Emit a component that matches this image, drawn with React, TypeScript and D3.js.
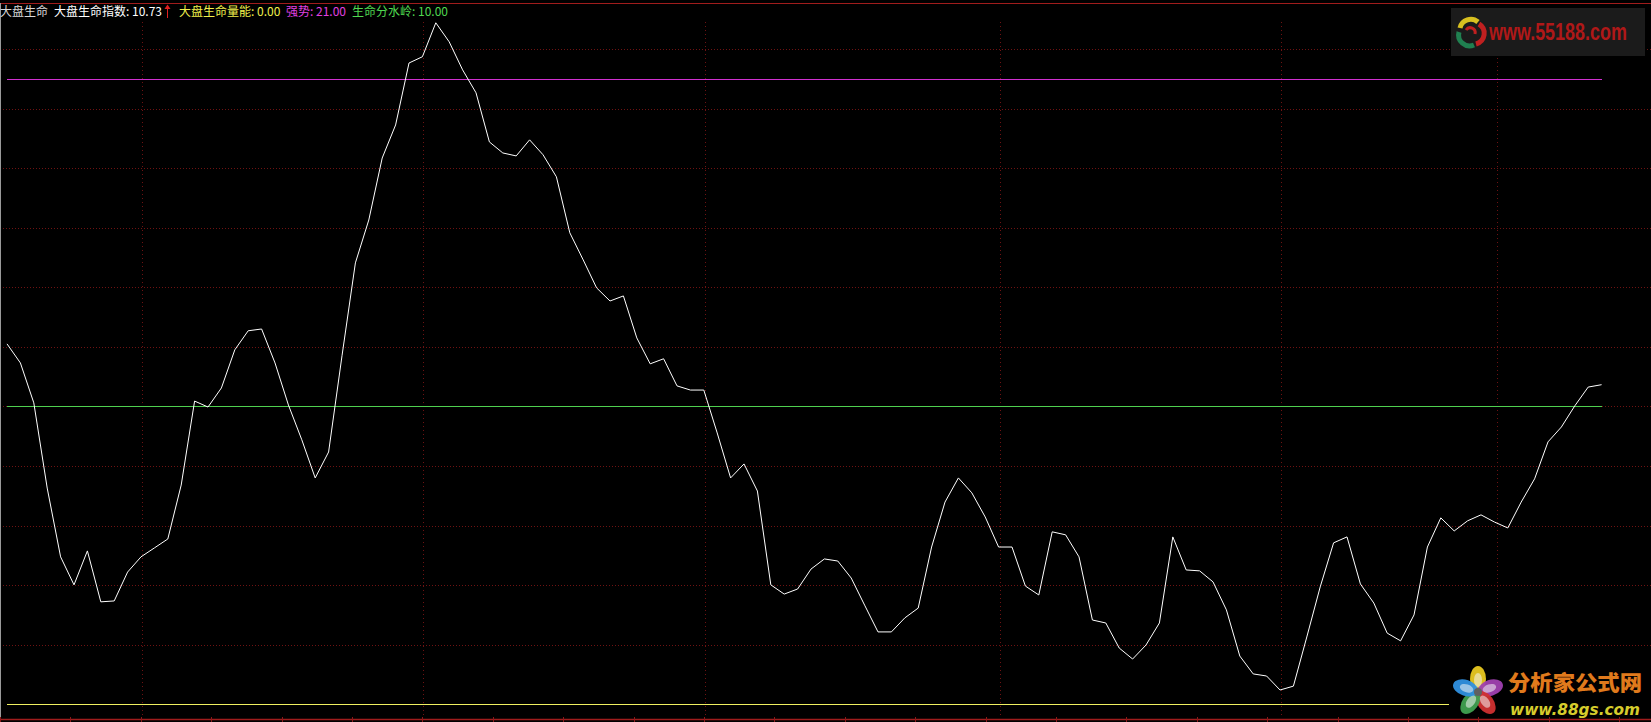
import React from "react";
import * as d3 from "d3";

// ---- data ----
const lifeIndex: number[] = [
  12.10, 11.46, 10.12, 7.26, 4.95, 4.01, 5.15, 3.44, 3.47, 4.44,
  4.95, 5.25, 5.55, 7.36, 10.18, 9.98, 10.62, 11.90, 12.54, 12.60,
  11.46, 10.05, 8.88, 7.60, 8.47, 11.70, 14.82, 16.26, 18.34, 19.45,
  21.53, 21.74, 22.88, 22.24, 21.30, 20.53, 18.88, 18.51, 18.41, 18.95,
  18.45, 17.71, 15.83, 14.92, 13.98, 13.54, 13.71, 12.30, 11.43, 11.60,
  10.69, 10.55, 10.55, 9.11, 7.60, 8.07, 7.16, 4.01, 3.70, 3.87,
  4.54, 4.88, 4.81, 4.24, 3.33, 2.43, 2.43, 2.90, 3.23, 5.28,
  6.79, 7.60, 7.10, 6.29, 5.28, 5.28, 3.97, 3.67, 5.79, 5.69,
  4.95, 2.83, 2.73, 1.89, 1.52, 1.99, 2.73, 5.62, 4.51, 4.48,
  4.11, 3.17, 1.62, 1.02, 0.95, 0.48, 0.61, 2.26, 3.94, 5.42,
  5.62, 4.04, 3.40, 2.39, 2.13, 3.00, 5.28, 6.26, 5.82, 6.16,
  6.36, 6.12, 5.92, 6.79, 7.57, 8.81, 9.31, 10.02, 10.65, 10.73,
];
const energyLevel = 0.0; // 大盘生命量能
const strongLevel = 21.0; // 强势
const watershedLevel = 10.0; // 生命分水岭
const gridValues: number[] = [2, 4, 6, 8, 10, 12, 14, 16, 18, 20, 22];
const periodStarts: number[] = [10, 31, 52, 74, 95, 111.1];

const legendLabels = ["大盘生命", "大盘生命指数", "大盘生命量能", "强势", "生命分水岭"];

const W = 1651;
const H = 722;

export default function App() {
  const n = lifeIndex.length;
  const x = d3.scaleLinear().domain([0, n - 1]).range([7, 1601.6]);
  const y = d3.scaleLinear().domain([0, 22]).range([704.3, 49]);
  const line = d3
    .line<number>()
    .x((_, i) => x(i))
    .y((d) => y(d));

  const gridColor = "#6e1212";
  const bottomTicks = d3.range(0, W, 70.4);
  const last = lifeIndex[n - 1];
  const font = "'Noto Sans CJK SC', 'Noto Sans', sans-serif";

  return (
    <div style={{ width: W, height: H, background: "#000" }}>
      <style>{`html,body{margin:0;padding:0;background:#000;}`}</style>
      <svg width={W} height={H} style={{ display: "block", position: "absolute", left: 0, top: 0 }}>
        <rect x={0} y={0} width={W} height={H} fill="#000" />
        {/* horizontal grid */}
        {gridValues.map((v) => (
          <line
            key={"h" + v}
            x1={0}
            x2={W}
            y1={Math.round(y(v)) + 0.5}
            y2={Math.round(y(v)) + 0.5}
            stroke={gridColor}
            strokeWidth={1}
            strokeDasharray="1,2"
          />
        ))}
        {/* vertical grid */}
        {periodStarts.map((p) => (
          <line
            key={"v" + p}
            x1={Math.round(x(p)) + 1.5}
            x2={Math.round(x(p)) + 1.5}
            y1={22}
            y2={718}
            stroke={gridColor}
            strokeWidth={1}
            strokeDasharray="1,3"
          />
        ))}
        {/* borders */}
        <line x1={0} x2={W} y1={3.5} y2={3.5} stroke="#a01c1c" strokeWidth={1} />
        <line x1={0} x2={W} y1={719.5} y2={719.5} stroke="#a01c1c" strokeWidth={1.5} />
        <line x1={0.5} x2={0.5} y1={3} y2={720} stroke="#9a9a9a" strokeWidth={1} />
        {bottomTicks.map((t) => (
          <line key={"t" + t} x1={Math.round(t) + 0.5} x2={Math.round(t) + 0.5} y1={717} y2={722} stroke="#8a1818" strokeWidth={1} />
        ))}

        {/* level lines */}
        <line x1={7} x2={1602} y1={Math.round(y(strongLevel)) + 0.5} y2={Math.round(y(strongLevel)) + 0.5} stroke="#d030d0" strokeWidth={1} />
        <line x1={7} x2={1602} y1={Math.round(y(watershedLevel)) + 0.5} y2={Math.round(y(watershedLevel)) + 0.5} stroke="#4fd04f" strokeWidth={1} />
        <line x1={7} x2={1602} y1={Math.round(y(energyLevel)) + 0.5} y2={Math.round(y(energyLevel)) + 0.5} stroke="#f0f060" strokeWidth={1} />

        {/* main line */}
        <path d={line(lifeIndex) || ""} fill="none" stroke="#ffffff" strokeWidth={1} strokeLinejoin="miter" />

        {/* legend */}
        <g style={{ fontFamily: font, fontSize: 12 }}>
          <text x={0} y={16} fill="#d8d8d8">{legendLabels[0]}</text>
          <text x={54} y={16} fill="#ffffff">{legendLabels[1] + ": " + last.toFixed(2)}</text>
          <g>
            <line x1={167.5} x2={167.5} y1={8} y2={18} stroke="#e02020" strokeWidth={1} />
            <path d="M164.5,9 L167.5,4.5 L170.5,9 Z" fill="#e02020" />
          </g>
          <text x={179} y={16} fill="#f0f04c">{legendLabels[2] + ": " + energyLevel.toFixed(2)}</text>
          <text x={286} y={16} fill="#e040e0">{legendLabels[3] + ": " + strongLevel.toFixed(2)}</text>
          <text x={352} y={16} fill="#50d850">{legendLabels[4] + ": " + watershedLevel.toFixed(2)}</text>
        </g>

        {/* top-right logo */}
        <g>
          <rect x={1451} y={8} width={194} height={48} fill="#1b1b1b" />
          <g transform="translate(1470,32)">
            <path d="M-10,-4 A11,11 0 0 1 8,-10" fill="none" stroke="#d8c020" strokeWidth={5} />
            <path d="M9,-8 A11,11 0 0 1 6,12" fill="none" stroke="#c02020" strokeWidth={5} />
            <path d="M4,13 A11,11 0 0 1 -11,0" fill="none" stroke="#208050" strokeWidth={5} />
            <path d="M-4,-2 A5,5 0 0 1 5,2" fill="none" stroke="#c02020" strokeWidth={3} />
          </g>
          <g transform="translate(1489,40) scale(0.78,1)">
            <text x={0} y={0} fill="#b01818" style={{ fontFamily: "'Liberation Sans', 'DejaVu Sans', sans-serif", fontWeight: 700, fontSize: 23 }}>
              www.55188.com
            </text>
          </g>
        </g>

        {/* bottom-right logo */}
        <g>
          <rect x={1449} y={656} width={202} height={61} fill="#000" />
          <g transform="translate(1478,692)">
            {[
              { a: -90, c: "#e8c820" },
              { a: -18, c: "#a040b0" },
              { a: 54, c: "#d03030" },
              { a: 126, c: "#40a050" },
              { a: 198, c: "#2f90e0" },
            ].map((p) => (
              <ellipse key={p.a} cx={0} cy={-13} rx={8} ry={13} fill={p.c} transform={`rotate(${p.a + 90})`} opacity={0.95} />
            ))}
            {[-90, -18, 54, 126, 198].map((a) => (
              <ellipse key={"w" + a} cx={0} cy={-12} rx={4} ry={7} fill="#f4f4f4" opacity={0.55} transform={`rotate(${a + 90})`} />
            ))}
            <circle r={4} fill="#606060" />
          </g>
          <text x={1508} y={690} fill="#e07a1c" style={{ fontFamily: "'Noto Sans CJK SC', sans-serif", fontWeight: 900, fontSize: 21 }} textLength={134} lengthAdjust="spacingAndGlyphs">
            分析家公式网
          </text>
          <text x={1510} y={715} fill="#d6cc2c" style={{ fontFamily: "'DejaVu Sans', sans-serif", fontWeight: 700, fontStyle: "italic", fontSize: 16 }} textLength={130} lengthAdjust="spacingAndGlyphs">
            www.88gs.com
          </text>
        </g>
      </svg>
    </div>
  );
}
